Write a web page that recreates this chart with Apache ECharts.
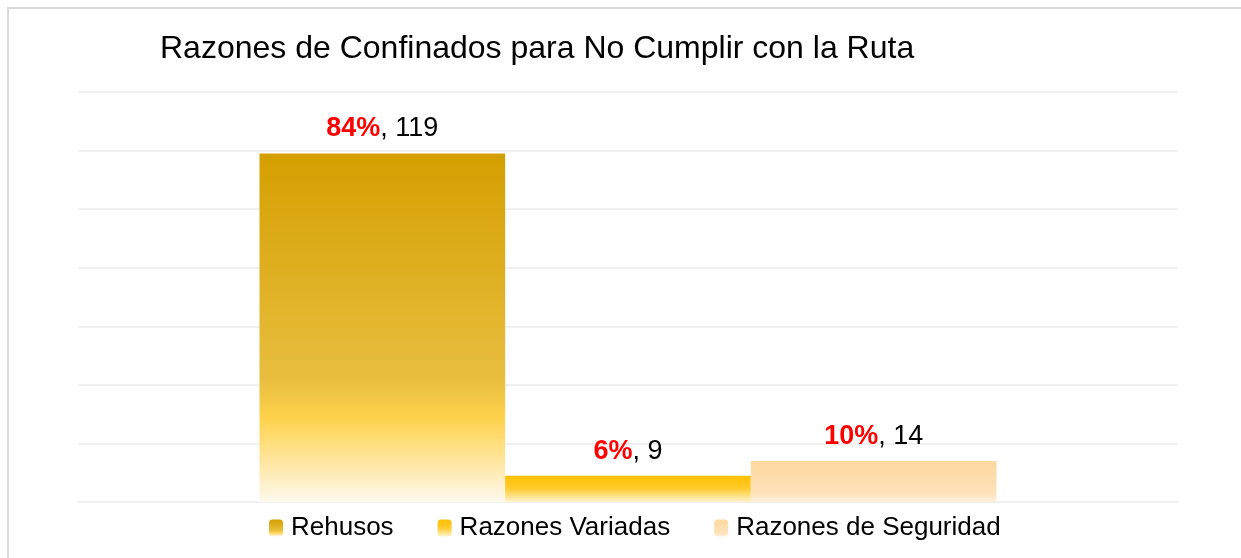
<!DOCTYPE html>
<html>
<head>
<meta charset="utf-8">
<script src="https://cdn.jsdelivr.net/npm/echarts@6/dist/echarts.min.js"></script>
<style>
    html, body { margin: 0; padding: 0; background: #fff; }
    #chart { width: 1241px; height: 558px; }
</style>
</head>
<body>
<div id="chart"></div>
<script>
(function () {

    'use strict';

    var seriesNames = ['Rehusos', 'Razones Variadas', 'Razones de Seguridad'];
    var seriesValues = [119, 9, 14];
    var categories = [''];

    var fills = [
        [[0, '#D49F00'], [0.65, '#E9BE40'], [0.76, '#FFD24C'], [1, '#FEF9EE']],
        [[0, '#FFC000'], [0.5, '#FFCB2E'], [1, '#FFF4D0']],
        [[0, '#FDD8A0'], [0.8, '#FEE2BA'], [1, '#FFF1DE']]
    ];

    var total = seriesValues.reduce(function (a, b) { return a + b; }, 0);

    var chart = echarts.init(document.getElementById('chart'));

    var series = seriesNames.map(function (name, i) {
        return {
            name: name,
            type: 'bar',
            data: [seriesValues[i]],
            barGap: '0%',
            barCategoryGap: '33%',
            itemStyle: {
                color: new echarts.graphic.LinearGradient(0, 0, 0, 1, fills[i].map(function (s) {
                    return {offset: s[0], color: s[1]};
                }))
            },
            label: {
                show: true,
                position: 'top',
                distance: 11,
                formatter: function (p) {
                    var pct = Math.round(p.value / total * 100);
                    return '{p|' + pct + '%}{n|, ' + p.value + '}';
                },
                rich: {
                    p: {color: '#FF0000', fontWeight: 'bold', fontSize: 27, fontFamily: 'Liberation Sans, Arial'},
                    n: {color: '#000', fontSize: 27, fontFamily: 'Liberation Sans, Arial'}
                }
            }
        };
    });

    var option = {
        animation: false,
        title: {
            text: 'Razones de Confinados para No Cumplir con la Ruta',
            left: 155,
            top: 28,
            textStyle: {
                fontFamily: 'Liberation Sans, Arial',
                fontWeight: 'normal',
                fontSize: 32,
                color: '#000'
            }
        },
        legend: {
            data: seriesNames,
            left: 264,
            top: 510,
            itemWidth: 14,
            itemHeight: 17,
            itemGap: 44,
            textStyle: {
                fontFamily: 'Liberation Sans, Arial',
                fontSize: 26,
                color: '#000',
                padding: [0, 0, 0, 3]
            }
        },
        grid: {
            left: 78,
            right: 63,
            top: 92,
            bottom: 56
        },
        xAxis: {
            type: 'category',
            data: categories,
            axisLine: {lineStyle: {color: '#F0F0F0', width: 2}},
            axisTick: {show: false},
            axisLabel: {show: false}
        },
        yAxis: {
            type: 'value',
            min: 0,
            max: 140,
            interval: 20,
            axisLabel: {show: false},
            axisLine: {show: false},
            axisTick: {show: false},
            splitLine: {lineStyle: {color: '#F0F0F0', width: 2}}
        },
        graphic: [{
            type: 'rect',
            shape: {x: 8, y: 8, width: 1250, height: 570},
            style: {fill: 'none', stroke: '#D9D9D9', lineWidth: 2},
            silent: true
        }],
        series: series
    };

    chart.setOption(option);
})();
</script>
</body>
</html>
